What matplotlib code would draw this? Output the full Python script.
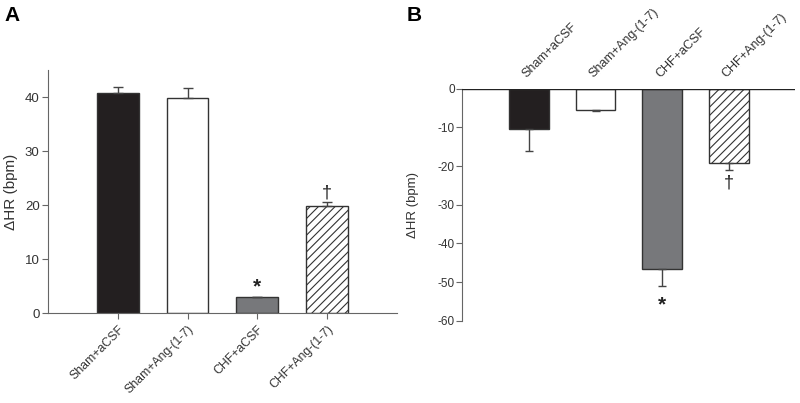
import matplotlib.pyplot as plt

groups = ["Sham+aCSF", "Sham+Ang-(1-7)", "CHF+aCSF", "CHF+Ang-(1-7)"]
hr_a = [40.8, 39.9, 2.9, 19.9]
err_a = [1.1, 1.7, 0.15, 0.7]
hr_b = [-10.5, -5.5, -46.7, -19.2]
err_b = [5.6, 0.3, 4.2, 1.9]
marks_a = ["", "", "*", "\u2020"]
marks_b = ["", "", "*", "\u2020"]

face = ["#231f20", "white", "#77787b", "white"]
hatches = [None, None, None, "////"]
axis_col = "#666666"
text_col = "#333333"

plt.rcParams["font.family"] = ["Liberation Sans", "DejaVu Sans"]
plt.rcParams["hatch.linewidth"] = 0.8
plt.rcParams["axes.unicode_minus"] = False

fig = plt.figure(figsize=(8, 4.03), dpi=100)
ax_a = fig.add_axes([0.06, 0.2233, 0.436, 0.603])
ax_b = fig.add_axes([0.578, 0.204, 0.416, 0.576])

xs = [1, 2, 3, 4]


def draw_bars(ax, vals, errs, upward, cap):
    for x, v, e, fc, h in zip(xs, vals, errs, face, hatches):
        ax.bar(x, v, width=0.6, color=fc, edgecolor="#333333", linewidth=1.0,
               hatch=h, zorder=2)
        yerr = [[0], [e]] if upward else [[e], [0]]
        ax.errorbar(x, v, yerr=yerr, fmt="none", ecolor="#444444",
                    elinewidth=1.0, capsize=cap, capthick=1.0, zorder=3)


def style_axes(ax):
    for side in ("right", "top", "bottom"):
        ax.spines[side].set_visible(False)
    ax.spines["left"].set_color(axis_col)
    ax.tick_params(colors=axis_col, labelcolor=text_col, direction="out")
    ax.set_xlim(0, 5)


# panel A
draw_bars(ax_a, hr_a, err_a, True, 3.5)
style_axes(ax_a)
ax_a.spines["bottom"].set_visible(True)
ax_a.spines["bottom"].set_color(axis_col)
ax_a.set_ylim(0, 45)
ax_a.set_yticks([0, 10, 20, 30, 40])
ax_a.tick_params(axis="y", labelsize=9.5, length=4.5, pad=1.5)
ax_a.tick_params(axis="x", length=4)
ax_a.set_xticks(xs)
ax_a.set_xticklabels(groups, rotation=45, ha="right", rotation_mode="anchor",
                     fontsize=8.8)
ax_a.set_ylabel("\u0394HR (bpm)", fontsize=11, color=text_col)
ax_a.yaxis.set_label_coords(-0.086, 0.5)
for x, v, e, m in zip(xs, hr_a, err_a, marks_a):
    if m == "*":
        ax_a.text(x, v + e + 0.85, m, ha="center", va="baseline", fontsize=15,
                  fontweight="bold", color="#222222")
    elif m:
        ax_a.text(x, v + e + 0.8, m, ha="center", va="baseline", fontsize=13,
                  color="#222222")
fig.text(0.006, 0.962, "A", fontsize=15, fontweight="bold", va="center")

# panel B
draw_bars(ax_b, hr_b, err_b, False, 3)
style_axes(ax_b)
ax_b.axhline(0, color="#222222", linewidth=1.0, zorder=4)
ax_b.xaxis.tick_top()
ax_b.set_ylim(-60, 0)
ax_b.set_yticks([0, -10, -20, -30, -40, -50, -60])
ax_b.tick_params(axis="y", labelsize=8.5, length=4, pad=1.5)
ax_b.tick_params(axis="x", length=0, pad=6)
ax_b.set_xticks(xs)
ax_b.set_xticklabels(groups, rotation=45, ha="left", rotation_mode="anchor",
                     fontsize=9)
ax_b.set_ylabel("\u0394HR (bpm)", fontsize=9.5, color=text_col)
ax_b.yaxis.set_label_coords(-0.129, 0.5)
for x, v, e, m in zip(xs, hr_b, err_b, marks_b):
    if m == "*":
        ax_b.text(x, v - e - 2.5, m, ha="center", va="top", fontsize=15,
                  fontweight="bold", color="#222222")
    elif m:
        ax_b.text(x, v - e - 1.1, m, ha="center", va="top", fontsize=13,
                  color="#222222")
fig.text(0.508, 0.962, "B", fontsize=15, fontweight="bold", va="center")

fig.savefig("out.png", dpi=100)
